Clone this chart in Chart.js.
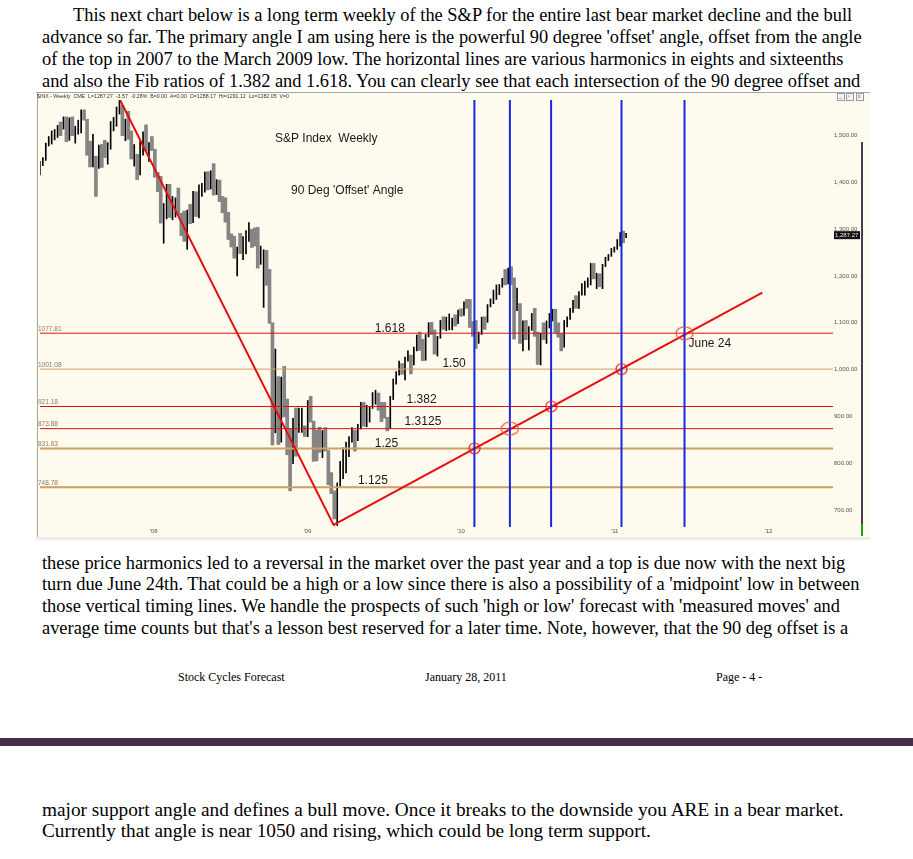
<!DOCTYPE html>
<html>
<head>
<meta charset="utf-8">
<script src="https://cdn.jsdelivr.net/npm/chart.js@4.4.1/dist/chart.umd.min.js"></script>
<style>
  html, body { margin: 0; padding: 0; background: #fff; }
  body { width: 913px; height: 859px; position: relative; overflow: hidden; }
  .ln { position: absolute; left: 42px; white-space: nowrap; font-family: "Liberation Serif", "Times New Roman", serif; font-size: 18.4px; line-height: 20px; color: #000; }
  .lo { font-size: 19.3px; }
  .ft { position: absolute; top: 670px; white-space: nowrap; font-family: "Liberation Serif", "Times New Roman", serif; font-size: 12px; line-height: 14px; color: #000; }
  .rule { position: absolute; left: 0; top: 738px; width: 913px; height: 8px; background: #4a2f48; }
  #wrap { position: absolute; left: 33px; top: 92px; width: 837px; height: 448px; }
</style>
</head>
<body>
<div class="ln" style="top:5px;left:73px">This next chart below is a long term weekly of the S&amp;P for the entire last bear market decline and the bull</div>
<div class="ln" style="top:27px">advance so far. The primary angle I am using here is the powerful 90 degree 'offset' angle, offset from the angle</div>
<div class="ln" style="top:49px">of the top in 2007 to the March 2009 low. The horizontal lines are various harmonics in eights and sixteenths</div>
<div class="ln" style="top:71px">and also the Fib ratios of 1.382 and 1.618. You can clearly see that each intersection of the 90 degree offset and</div>

<div id="wrap"><canvas id="chart" width="837" height="448"></canvas></div>

<div class="ln" style="top:553px">these price harmonics led to a reversal in the market over the past year and a top is due now with the next big</div>
<div class="ln" style="top:574px">turn due June 24th. That could be a high or a low since there is also a possibility of a 'midpoint' low in between</div>
<div class="ln" style="top:596px">those vertical timing lines. We handle the prospects of such 'high or low' forecast with 'measured moves' and</div>
<div class="ln" style="top:618px">average time counts but that's a lesson best reserved for a later time. Note, however, that the 90 deg offset is a</div>

<div class="ft" style="left:178px">Stock Cycles Forecast</div>
<div class="ft" style="left:425px">January 28, 2011</div>
<div class="ft" style="left:716px">Page - 4 -</div>

<div class="rule"></div>

<div class="ln lo" style="top:800px">major support angle and defines a bull move. Once it breaks to the downside you ARE in a bear market.</div>
<div class="ln lo" style="top:821px">Currently that angle is near 1050 and rising, which could be long term support.</div>

<script>
const firstWeek = [2007, 3, 6];

const weekLows = [
  1416, 1436, 1447, 1478, 1482, 1491, 1496, 1500, 1514, 1487, 1490, 1500, 1484, 1503, 1506, 1533, 1458, 1433, 1433, 1370,
  1430, 1432, 1453, 1439, 1471, 1510, 1520, 1546, 1500, 1489, 1492, 1450, 1435, 1406, 1416, 1458, 1467, 1445, 1468,
  1411, 1380, 1313, 1270, 1322, 1325, 1320, 1326, 1330, 1286, 1274, 1257, 1312, 1314, 1327, 1324, 1370, 1379, 1384, 1386,
  1373, 1374, 1359, 1335, 1315, 1278, 1262, 1238, 1200, 1248, 1235, 1247, 1274, 1261, 1264, 1217, 1225, 1133, 1180, 1099,
  839, 865, 840, 845, 899, 818, 741, 799, 815, 866, 866, 857,
  857, 888, 804, 805, 823, 812, 826, 754, 735, 681, 667, 751, 767, 779, 814, 845, 826, 848, 873, 879,
  878, 888, 917, 926, 913, 889, 896, 869, 875, 936, 969, 988, 990, 978, 1018, 991, 1010, 1040, 1041, 1019,
  1020, 1070, 1075, 1033, 1029, 1067, 1086, 1083, 1085, 1085, 1093, 1098,
  1114, 1116, 1131, 1090, 1071, 1045, 1056, 1075, 1086, 1101, 1134, 1141, 1150, 1160, 1176, 1181, 1183, 1181, 1065, 1126,
  1056, 1040, 1064, 1042, 1084, 1071, 1011, 1010, 1064, 1056, 1089, 1104, 1078, 1069, 1040, 1048, 1091, 1107, 1122, 1131,
  1131, 1159, 1159, 1176, 1181, 1194, 1173, 1177, 1173, 1220, 1233, 1242, 1251,
  1257, 1264, 1271, 1282
];

const weekHighs = [
  1445, 1453, 1484, 1498, 1510, 1513, 1522, 1529, 1540, 1540, 1538, 1540, 1520, 1533, 1555, 1555, 1535, 1488, 1503, 1456,
  1480, 1481, 1490, 1485, 1530, 1539, 1561, 1576, 1564, 1535, 1552, 1510, 1481, 1460, 1488, 1508, 1523, 1485, 1498,
  1471, 1421, 1413, 1355, 1396, 1396, 1370, 1367, 1388, 1334, 1339, 1341, 1353, 1381, 1380, 1395, 1398, 1422, 1423, 1425,
  1440, 1406, 1405, 1370, 1367, 1336, 1290, 1285, 1262, 1291, 1284, 1297, 1314, 1300, 1303, 1304, 1264, 1256, 1255, 1214,
  1100, 1044, 985, 984, 1007, 937, 873, 896, 918, 918, 918, 880,
  934, 943, 890, 871, 877, 870, 876, 827, 780, 741, 758, 804, 833, 845, 857, 876, 871, 883, 930, 930,
  924, 920, 951, 956, 950, 930, 930, 898, 943, 980, 996, 1018, 1013, 1027, 1040, 1031, 1048, 1074, 1080, 1065,
  1075, 1100, 1101, 1085, 1071, 1105, 1113, 1112, 1119, 1110, 1117, 1127,
  1130, 1145, 1150, 1150, 1103, 1105, 1080, 1112, 1113, 1139, 1151, 1170, 1181, 1182, 1195, 1214, 1217, 1220, 1196, 1174,
  1141, 1104, 1105, 1092, 1120, 1131, 1080, 1078, 1100, 1104, 1120, 1129, 1129, 1100, 1077, 1105, 1113, 1131, 1148, 1158,
  1167, 1184, 1189, 1196, 1227, 1227, 1206, 1205, 1225, 1240, 1246, 1259, 1262,
  1278, 1293, 1296, 1291
];

const weekCloses = [
  1443, 1452, 1484, 1494, 1505, 1505, 1522, 1515, 1536, 1507, 1533, 1502, 1503, 1530, 1553, 1534, 1458, 1433, 1453, 1445,
  1479, 1473, 1453, 1484, 1525, 1527, 1557, 1561, 1501, 1535, 1509, 1453, 1458, 1440, 1481, 1504, 1467, 1484, 1478,
  1411, 1401, 1325, 1330, 1396, 1331, 1349, 1353, 1331, 1294, 1288, 1330, 1316, 1370, 1332, 1390, 1397, 1414, 1388, 1425,
  1375, 1400, 1361, 1360, 1318, 1278, 1262, 1240, 1261, 1257, 1260, 1296, 1298, 1292, 1283, 1242, 1252, 1255, 1213, 1099,
  899, 940, 877, 968, 931, 873, 800, 896, 876, 879, 887, 872,
  932, 890, 850, 832, 826, 869, 827, 770, 735, 683, 757, 769, 816, 842, 857, 869, 866, 877, 929, 882,
  887, 919, 940, 946, 921, 918, 896, 879, 941, 979, 987, 1010, 1004, 1026, 1029, 1016, 1042, 1068, 1044, 1025,
  1071, 1087, 1080, 1036, 1069, 1093, 1091, 1091, 1106, 1106, 1102, 1126,
  1115, 1145, 1136, 1092, 1074, 1066, 1075, 1109, 1105, 1139, 1150, 1160, 1167, 1179, 1194, 1192, 1217, 1187, 1111, 1136,
  1087, 1089, 1064, 1092, 1117, 1076, 1022, 1078, 1065, 1102, 1102, 1122, 1079, 1072, 1065, 1105, 1110, 1125, 1148, 1146,
  1166, 1176, 1183, 1183, 1225, 1199, 1199, 1189, 1224, 1240, 1244, 1256, 1258,
  1272, 1293, 1283, 1287
];

const levelValues = [1077.81, 1001.08, 921.18, 873.88, 831.63, 748.78];
const levelRatios = ["1.618", "1.50", "1.382", "1.3125", "1.25", "1.125"];

const timingLines = [2010.087, 2010.318, 2010.586, 2011.044, 2011.454];
const timingLevels = [831.63, 873.88, 921.18, 1001.08, 1077.81];

const angleYears = [2007.782, 2009.171, 2011.96];
const angleValues = [1576, 668, 1164.6];

const yTicks = [700, 800, 900, 1000, 1100, 1200, 1300, 1400, 1500];
const xTicks = [2008, 2009, 2010, 2011, 2012];
const xTickLabels = ["'08", "'09", "'10", "'11", "'12"];

const lastPrice = 1287.27;
const headerText = "$INX - Weekly  CME  L=1287.27  -3.57  -0.28%  B=0.00  A=0.00  O=1288.17  Hi=1291.12  Lo=1282.05  V=0";

const xMin = 2007.261;
const xMax = 2012.42;
const yMin = 663.7;
const yMax = 1576.1;

const levelColors = ["#e01010", "#d29c62", "#e01010", "#e01010", "#d29c62", "#d29c62"];
const levelWidths = [1, 1, 1, 1, 2, 2];
const ratioYears = [2009.439, 2009.879, 2009.646, 2009.633, 2009.439, 2009.329];
const ratioLift = [5, 5, 7, 7, 5, 6];

function weekYear(i) {
  const d = new Date(firstWeek[0], firstWeek[1], firstWeek[2] + 7 * i);
  const start = new Date(d.getFullYear(), 0, 1);
  const end = new Date(d.getFullYear() + 1, 0, 1);
  return d.getFullYear() + (d - start) / (end - start);
}

function ringImage(rx, ry, color) {
  const c = document.createElement("canvas");
  c.width = Math.ceil(rx * 2 + 2);
  c.height = Math.ceil(ry * 2 + 2);
  const g = c.getContext("2d");
  g.strokeStyle = color;
  g.lineWidth = 1.2;
  g.beginPath();
  g.ellipse(c.width / 2, c.height / 2, rx, ry, 0, 0, Math.PI * 2);
  g.stroke();
  return c;
}

const upBars = [];
const downBars = [];
weekHighs.forEach((hi, i) => {
  const point = { x: weekYear(i), y: [weekLows[i], hi] };
  if (i > 0 && weekCloses[i] < weekCloses[i - 1]) {
    downBars.push(point);
  } else {
    upBars.push(point);
  }
});

const smallRing = ringImage(5.5, 5.5, "#e4141c");
const bigRing = ringImage(8.5, 6.5, "#e2582a");

const datasets = [];

timingLines.forEach((t) => {
  datasets.push({
    type: "line",
    data: [{ x: t, y: yMin }, { x: t, y: yMax }],
    borderColor: "#1428e6",
    borderWidth: 2,
    pointRadius: 0,
    order: 1
  });
});

datasets.push({
  type: "line",
  data: timingLines.map((t, i) => ({ x: t, y: timingLevels[i] })),
  showLine: false,
  pointStyle: timingLines.map((t, i) => (i === 1 || i === 4 ? bigRing : smallRing)),
  pointRadius: 6,
  order: 0
});

datasets.push({
  type: "line",
  data: angleYears.map((t, i) => ({ x: t, y: angleValues[i] })),
  borderColor: "#e80c0c",
  borderWidth: 2,
  pointRadius: 0,
  tension: 0,
  order: 2
});

levelValues.forEach((v, i) => {
  datasets.push({
    type: "line",
    data: [{ x: xMin, y: v }, { x: xMax, y: v }],
    borderColor: levelColors[i],
    borderWidth: levelWidths[i],
    pointRadius: 0,
    order: 3
  });
});

datasets.push({
  type: "bar",
  data: upBars,
  backgroundColor: "#000000",
  barThickness: 1,
  grouped: false,
  order: 4
});

datasets.push({
  type: "bar",
  data: downBars,
  backgroundColor: "#858585",
  barThickness: 3,
  grouped: false,
  order: 5
});

const frame = {
  id: "frame",
  beforeDraw(c) {
    const ctx = c.ctx;
    ctx.save();
    ctx.fillStyle = "#ffffff";
    ctx.fillRect(0, 0, c.width, c.height);
    ctx.fillStyle = "#fffaee";
    ctx.fillRect(3, 0, c.width - 3, 445);
    ctx.fillStyle = "#ececec";
    ctx.fillRect(3, 445, c.width - 3, 3);

    ctx.strokeStyle = "#a8a8a8";
    ctx.lineWidth = 1;
    ctx.beginPath();
    ctx.moveTo(3, 0.5);
    ctx.lineTo(c.width, 0.5);
    ctx.moveTo(4.5, 1);
    ctx.lineTo(4.5, 445);
    ctx.stroke();

    ctx.fillStyle = "#333";
    ctx.font = "5.5px 'Liberation Sans', Arial";
    ctx.textBaseline = "middle";
    ctx.fillText(headerText, 4, 4.5, 252);

    [804, 813, 823].forEach((bx, i) => {
      ctx.fillStyle = "#f3f3f3";
      ctx.fillRect(bx, 1, 7, 7);
      ctx.strokeStyle = "#9a9a9a";
      ctx.strokeRect(bx + 0.5, 1.5, 7, 7);
      ctx.fillStyle = "#555";
      ctx.font = "5px 'Liberation Sans', Arial";
      ctx.fillText(["_", "\u25ab", "x"][i], bx + 2, 5);
    });

    ctx.fillStyle = "#4a3a55";
    ctx.fillRect(828, 50, 2, 382);
    ctx.fillStyle = "#22a022";
    ctx.fillRect(828, 432, 2, 12);
    ctx.restore();
  },
  afterDraw(c) {
    const { ctx } = c;
    const { x, y } = c.scales;
    ctx.save();
    ctx.textBaseline = "middle";

    ctx.fillStyle = "#1a1a1a";
    ctx.font = "12px 'Liberation Sans', Arial";
    ctx.fillText("S&P Index  Weekly", 242, 47);
    ctx.fillText("90 Deg 'Offset' Angle", 258, 99);
    levelRatios.forEach((label, i) => {
      ctx.fillText(label, x.getPixelForValue(ratioYears[i]), y.getPixelForValue(levelValues[i]) - ratioLift[i]);
    });
    ctx.fillText("June 24", x.getPixelForValue(timingLines[4]) + 4, y.getPixelForValue(timingLevels[4]) + 10);

    ctx.font = "6.5px 'Liberation Sans', Arial";
    ctx.fillStyle = "#8c7a5c";
    levelValues.forEach((v) => {
      ctx.fillText(v.toFixed(2), 5, y.getPixelForValue(v) - 4);
    });

    const py = y.getPixelForValue(lastPrice);
    ctx.fillStyle = "#111";
    ctx.fillRect(801, py - 4, 26, 8);
    ctx.fillStyle = "#e8e8e8";
    ctx.font = "6px 'Liberation Sans', Arial";
    ctx.fillText(lastPrice.toLocaleString("en-US", { minimumFractionDigits: 2 }), 802, py);
    ctx.restore();
  }
};

new Chart(document.getElementById("chart"), {
  type: "bar",
  data: { datasets },
  options: {
    responsive: false,
    animation: false,
    devicePixelRatio: 1,
    layout: { padding: { left: 4, top: 8, right: 7, bottom: 3 } },
    plugins: { legend: { display: false }, tooltip: { enabled: false } },
    scales: {
      x: {
        type: "linear",
        min: xMin,
        max: xMax,
        offset: false,
        grid: { display: false, drawTicks: false },
        border: { display: false },
        afterBuildTicks: (s) => { s.ticks = xTicks.map((v) => ({ value: v })); },
        afterFit: (s) => { s.height = 10; },
        ticks: {
          autoSkip: false,
          maxRotation: 0,
          padding: 1,
          color: "#555",
          font: { size: 6, family: "'Liberation Sans', Arial" },
          callback: (v) => xTickLabels[xTicks.indexOf(v)]
        }
      },
      y: {
        position: "right",
        min: yMin,
        max: yMax,
        grid: { display: false, drawTicks: false },
        border: { display: false },
        afterBuildTicks: (s) => { s.ticks = yTicks.map((v) => ({ value: v })); },
        afterFit: (s) => { s.width = 30; },
        ticks: {
          padding: 1,
          color: "#555",
          font: { size: 6, family: "'Liberation Sans', Arial" },
          callback: (v) => Number(v).toLocaleString("en-US", { minimumFractionDigits: 2, maximumFractionDigits: 2 })
        }
      }
    }
  },
  plugins: [frame]
});
</script>
</body>
</html>
